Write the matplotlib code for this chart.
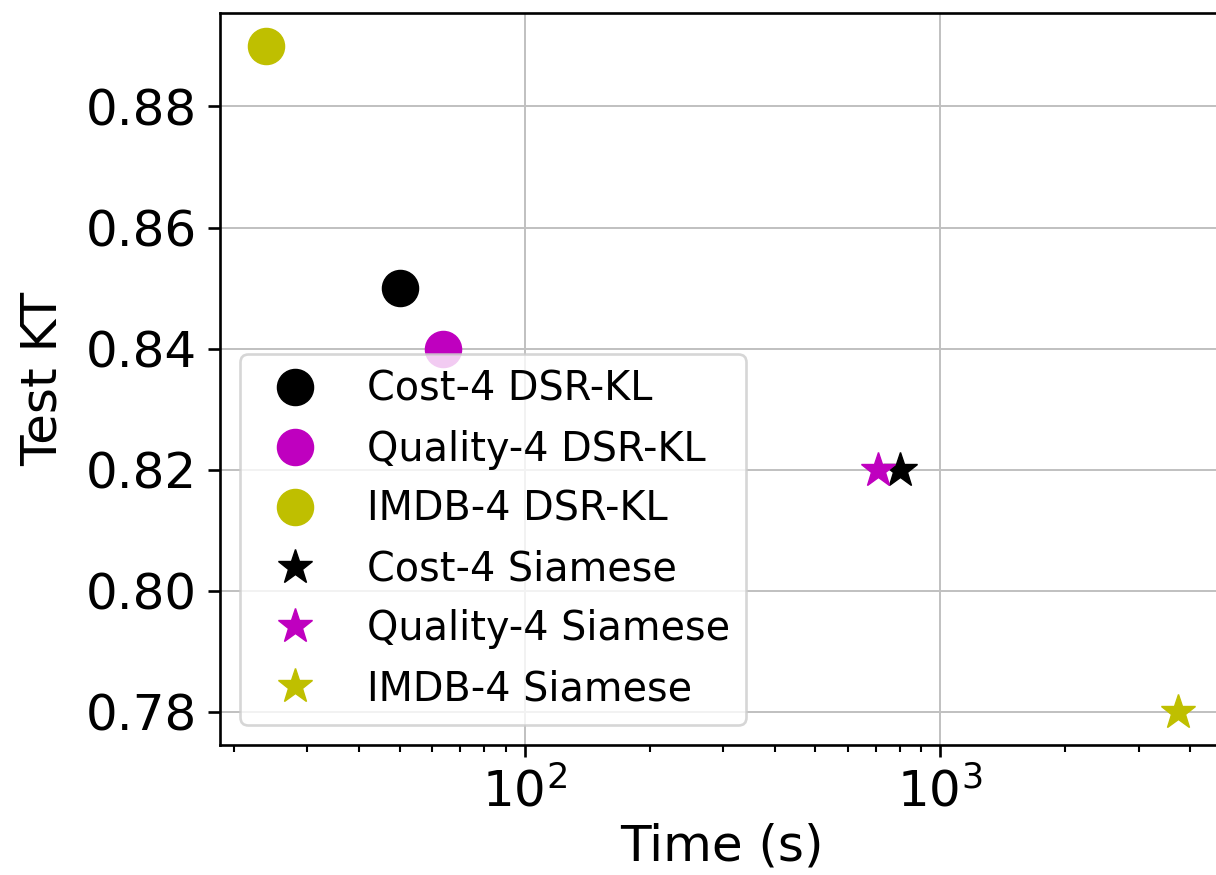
import matplotlib
matplotlib.use("Agg")
from matplotlib import pyplot as plt
import numpy as np

# training time (s) and test Kendall tau for each model
labels = ["Cost-4 DSR-KL", "Quality-4 DSR-KL", "IMDB-4 DSR-KL",
          "Cost-4 Siamese", "Quality-4 Siamese", "IMDB-4 Siamese"]
times = [50.1, 63.6, 23.8, 798, 710, 3742]
test_kt = [0.85, 0.84, 0.89, 0.82, 0.82, 0.78]
colors = ["k", "m", "y", "k", "m", "y"]
markers = ["o", "o", "o", "*", "*", "*"]

fig = plt.figure(figsize=(12.16, 8.75), dpi=100)
ax = fig.add_axes([0.1809, 0.1486, 0.8257, 0.8369])

for t, kt, c, m, lab in zip(times, test_kt, colors, markers, labels):
    ax.plot([t], [kt], linestyle="none", marker=m, color=c,
            markersize=26, label=lab)

ax.set_xscale("log")
ax.grid(True, color="#c0c0c0", linewidth=1.4)
ax.set_axisbelow(True)

ax.set_xlabel("Time (s)", fontsize=36, labelpad=4)
ax.set_ylabel("Test KT", fontsize=36, labelpad=14)
ax.tick_params(axis="both", which="major", labelsize=36, length=8.4, width=1.9, pad=8)
ax.tick_params(axis="both", which="minor", length=4.8, width=1.5)
for s in ax.spines.values():
    s.set_linewidth(1.9)

leg = ax.legend(loc="lower left", fontsize=28.6, framealpha=0.8)
leg.get_frame().set_linewidth(1.9)

fig.savefig("out.png", dpi=100)
